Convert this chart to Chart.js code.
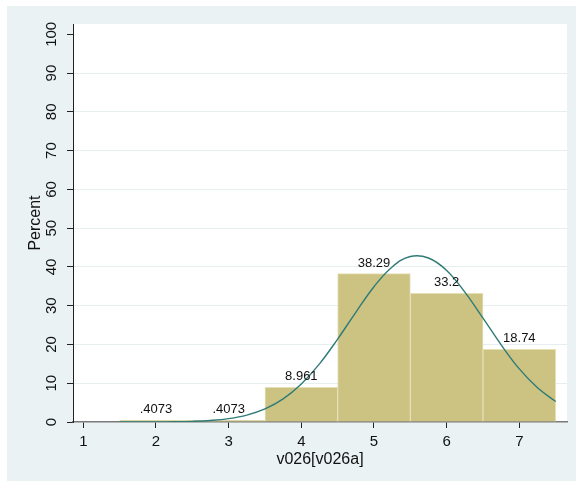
<!DOCTYPE html>
<html>
<head>
<meta charset="utf-8">
<script src="https://cdn.jsdelivr.net/npm/chart.js@4.4.1/dist/chart.umd.min.js"></script>
<style>
  html, body { margin: 0; padding: 0; background: #ffffff; }
  #wrap { width: 576px; height: 481px; }
</style>
</head>
<body>
<div id="wrap"><canvas id="hist" width="576" height="481"></canvas></div>
<script>
// Histogram of v026 with a fitted normal curve (percent scale)

const categories = [2, 3, 4, 5, 6, 7];
const percents = [0.4073, 0.4073, 8.961, 38.29, 33.2, 18.74];
const barLabels = [".4073", ".4073", "8.961", "38.29", "33.2", "18.74"];

// normal density curve
const curveX = [1.5, 1.75, 2, 2.25, 2.5, 2.75, 3, 3.25, 3.5, 3.75, 4, 4.25, 4.5,
  4.75, 5, 5.25, 5.5, 5.75, 6, 6.25, 6.5, 6.75, 7, 7.25, 7.5];
const curveY = [0.003, 0.008, 0.024, 0.066, 0.17, 0.4, 0.87, 1.78, 3.38, 5.97, 9.82,
  15.0, 21.4, 28.3, 34.9, 40.0, 42.7, 42.3, 39.1, 33.5, 26.8, 19.9, 13.7, 8.85, 5.29];

const yTicks = [0, 10, 20, 30, 40, 50, 60, 70, 80, 90, 100];
const xTicks = [1, 2, 3, 4, 5, 6, 7];

const FONT = "'Liberation Sans', Arial, sans-serif";

const backdrop = {
  id: "backdrop",
  beforeDraw(chart) {
    const { ctx, chartArea } = chart;
    ctx.save();
    ctx.fillStyle = "#EAF2F3";
    ctx.fillRect(7, 6, chart.width - 7, chart.height - 6);
    ctx.fillStyle = "#ffffff";
    ctx.fillRect(chartArea.left, chartArea.top,
      chartArea.right - chartArea.left, chartArea.bottom - chartArea.top);
    ctx.restore();
  },
};

const valueLabels = {
  id: "valueLabels",
  afterDatasetsDraw(chart) {
    const meta = chart.getDatasetMeta(1);
    const ctx = chart.ctx;
    ctx.save();
    ctx.font = "13px " + FONT;
    ctx.fillStyle = "#111111";
    ctx.textAlign = "center";
    ctx.textBaseline = "alphabetic";
    meta.data.forEach((bar, i) => {
      ctx.fillText(barLabels[i], bar.x, bar.y - 7);
    });
    ctx.restore();
  },
};

new Chart(document.getElementById("hist"), {
  type: "bar",
  data: {
    datasets: [
      {
        type: "line",
        label: "Normal",
        data: curveX.map((x, i) => ({ x: x, y: curveY[i] })),
        borderColor: "#2F7B77",
        borderWidth: 1.4,
        pointRadius: 0,
        tension: 0.4,
        fill: false,
        order: 0,
      },
      {
        type: "bar",
        label: "Percent",
        data: categories.map((c, i) => ({ x: c, y: percents[i] })),
        backgroundColor: "#CCC383",
        borderColor: "#E4DFB4",
        borderWidth: 1,
        barPercentage: 1,
        categoryPercentage: 1,
        order: 1,
      },
    ],
  },
  options: {
    responsive: false,
    animation: false,
    layout: { padding: { left: 0, top: 24, right: 9, bottom: 0 } },
    plugins: {
      legend: { display: false },
      tooltip: { enabled: false },
    },
    scales: {
      x: {
        type: "linear",
        min: 0.858,
        max: 7.656,
        offset: false,
        afterFit: (scale) => { scale.height = 59; },
        afterBuildTicks: (scale) => { scale.ticks = xTicks.map((v) => ({ value: v })); },
        ticks: {
          stepSize: 1,
          includeBounds: false,
          padding: 5,
          color: "#111111",
          font: { family: FONT, size: 15 },
        },
        grid: {
          offset: false,
          drawOnChartArea: false,
          tickLength: 6,
          tickColor: "#222222",
        },
        border: { color: "#7a7a7a", width: 1.5 },
        title: {
          display: true,
          text: "v026[v026a]",
          color: "#111111",
          font: { family: FONT, size: 16 },
          padding: { top: 0, bottom: 12 },
        },
      },
      y: {
        min: 0,
        max: 102.66,
        afterFit: (scale) => { scale.width = 73; },
        afterBuildTicks: (scale) => { scale.ticks = yTicks.map((v) => ({ value: v })); },
        ticks: {
          stepSize: 10,
          includeBounds: false,
          minRotation: 90,
          maxRotation: 90,
          crossAlign: "center",
          padding: 3,
          color: "#111111",
          font: { family: FONT, size: 15 },
        },
        grid: {
          color: (c) => (c.tick && (c.tick.value === 0 || c.tick.value === 100) ? "rgba(0,0,0,0)" : "#E6EFF0"),
          lineWidth: 1,
          tickLength: 6,
          tickColor: "#222222",
        },
        border: { color: "#222222", width: 1 },
        title: {
          display: true,
          text: "Percent",
          color: "#111111",
          font: { family: FONT, size: 16 },
          padding: { top: 26, bottom: 0 },
        },
      },
    },
  },
  plugins: [backdrop, valueLabels],
});
</script>
</body>
</html>
